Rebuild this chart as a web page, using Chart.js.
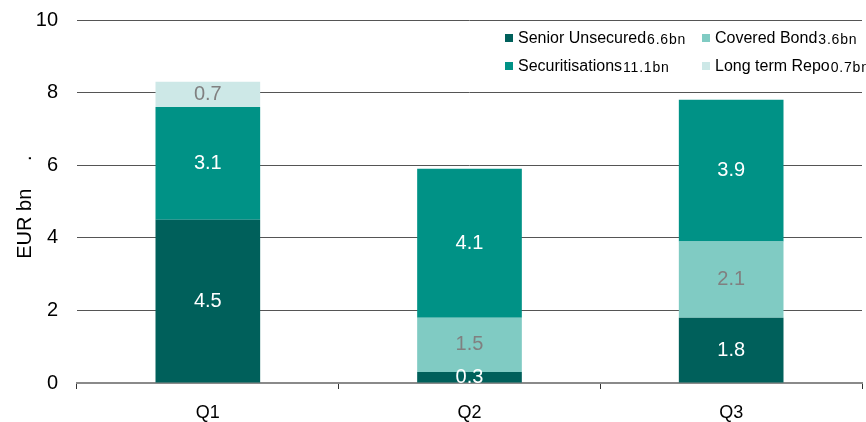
<!DOCTYPE html>
<html>
<head>
<meta charset="utf-8">
<script src="https://cdn.jsdelivr.net/npm/chart.js@4.4.1/dist/chart.umd.min.js"></script>
<style>
  html, body { margin: 0; padding: 0; background: #fff; }
  #wrap { width: 866px; height: 422px; position: relative; }
</style>
</head>
<body>
<div id="wrap"><canvas id="grafico"></canvas></div>
<script>
// datos por trimestre (EUR bn)
const trimestres = ['Q1', 'Q2', 'Q3'];
const seniorUnsecured = [4.5, 0.3, 1.8];
const coveredBond = [0, 1.5, 2.1];
const securitisations = [3.1, 4.1, 3.9];
const longTermRepo = [0.7, 0, 0];
const ticksY = [0, 2, 4, 6, 8, 10];

const FUENTE = 'Arial, "Liberation Sans", sans-serif';

const series = [
    { nombre: 'Senior Unsecured', datos: seniorUnsecured, color: '#00605b', texto: '#ffffff' },
    { nombre: 'Covered Bond', datos: coveredBond, color: '#80cbc3', texto: '#808080' },
    { nombre: 'Securitisations', datos: securitisations, color: '#009286', texto: '#ffffff' },
    { nombre: 'Long term Repo', datos: longTermRepo, color: '#cde8e7', texto: '#808080' }
];

const total = arr => arr.reduce((a, b) => a + b, 0).toFixed(1) + 'bn';

// etiquetas de valor dentro de cada segmento
const etiquetasBarras = {
    id: 'etiquetasBarras',
    afterDatasetsDraw(chart) {
        const ctx = chart.ctx;
        ctx.save();
        ctx.font = '20px ' + FUENTE;
        ctx.textAlign = 'center';
        ctx.textBaseline = 'middle';
        chart.data.datasets.forEach((ds, i) => {
            chart.getDatasetMeta(i).data.forEach((bar, j) => {
                const v = ds.data[j];
                if (!v) return;
                ctx.fillStyle = series[i].texto;
                ctx.fillText(v.toFixed(1), bar.x, (bar.y + bar.base) / 2);
            });
        });
        ctx.restore();
    }
};

// leyenda en dos columnas con el total en letra mas chica
const leyenda = {
    id: 'leyenda',
    afterDraw(chart) {
        const ctx = chart.ctx;
        const columnas = [505, 702];
        const filas = [39, 67];
        ctx.save();
        ctx.textBaseline = 'middle';
        ctx.textAlign = 'left';
        series.forEach((s, k) => {
            const x = columnas[k % 2];
            const y = filas[Math.floor(k / 2)];
            ctx.fillStyle = s.color;
            ctx.fillRect(x, y - 5, 8, 8);
            ctx.fillStyle = '#000';
            ctx.font = '16px ' + FUENTE;
            ctx.letterSpacing = '0px';
            ctx.fillText(s.nombre, x + 13, y);
            const w = ctx.measureText(s.nombre).width;
            ctx.font = '14px ' + FUENTE;
            ctx.letterSpacing = '0.8px';
            ctx.fillText(total(s.datos), x + 13 + w + 1, y + 1);
        });
        ctx.restore();
    }
};

new Chart(document.getElementById('grafico'), {
    type: 'bar',
    data: {
        labels: trimestres,
        datasets: series.map(s => ({
            label: s.nombre,
            data: s.datos,
            backgroundColor: s.color,
            borderWidth: 0,
            categoryPercentage: 1,
            barPercentage: 0.4
        }))
    },
    options: {
        responsive: true,
        maintainAspectRatio: false,
        animation: false,
        layout: { padding: { top: 20, right: 4, left: 0, bottom: 0 } },
        plugins: {
            legend: { display: false },
            tooltip: { enabled: false }
        },
        scales: {
            x: {
                stacked: true,
                grid: { offset: true, drawOnChartArea: false, drawTicks: true, tickLength: 6, color: '#333' },
                border: { color: '#8a8a8a', width: 2 },
                ticks: { color: '#000', padding: 13, font: { family: FUENTE, size: 18 } },
                afterFit(scale) { scale.height = 39; }
            },
            y: {
                stacked: true,
                min: 0,
                max: 10,
                afterBuildTicks(scale) { scale.ticks = ticksY.map(v => ({ value: v })); },
                grid: { drawTicks: false, color: ctx => ctx.tick.value === 0 ? 'rgba(0,0,0,0)' : '#555' },
                border: { display: false },
                ticks: { color: '#000', padding: 19, font: { family: FUENTE, size: 20 } },
                title: {
                    display: true,
                    text: 'EUR bn     .  ',
                    color: '#000',
                    padding: { top: 13, bottom: 0 },
                    font: { family: FUENTE, size: 20 }
                },
                afterFit(scale) {
                    scale.width = 77;
                    scale.paddingTop = 0;
                    scale.paddingBottom = 0;
                }
            }
        }
    },
    plugins: [etiquetasBarras, leyenda]
});
</script>
</body>
</html>
